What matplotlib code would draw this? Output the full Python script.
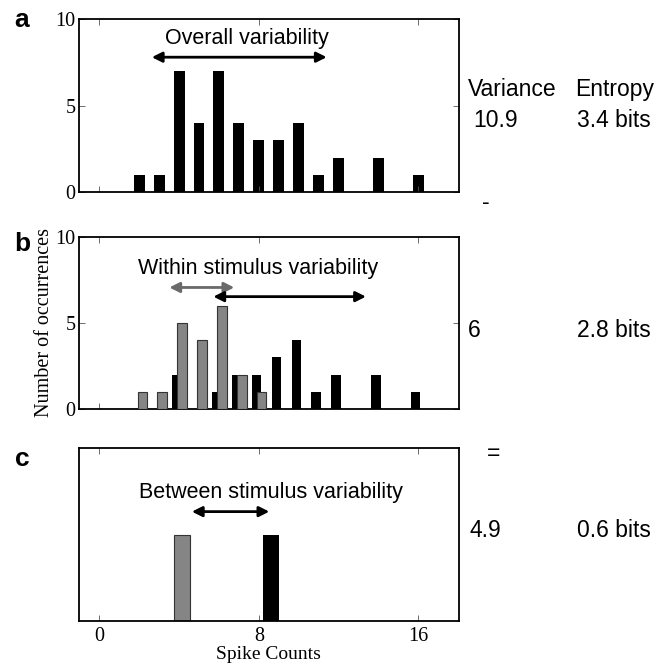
import matplotlib
matplotlib.use('Agg')
import matplotlib.pyplot as plt

# spike count histograms
overall_x = [2, 3, 4, 5, 6, 7, 8, 9, 10, 11, 12, 14, 16]
overall_n = [1, 1, 7, 4, 7, 4, 3, 3, 4, 1, 2, 2, 1]

stim_gray_x = [2, 3, 4, 5, 6, 7, 8]
stim_gray_n = [1, 1, 5, 4, 6, 2, 1]
stim_black_x = [4, 6, 7, 8, 9, 10, 11, 12, 14, 16]
stim_black_n = [2, 1, 2, 2, 3, 4, 1, 2, 2, 1]

mean_x = [4.15, 8.6]
mean_n = [5, 5]

variances = ['10.9', '6', '4.9']
entropies = ['3.4 bits', '2.8 bits', '0.6 bits']

SANS = 'Liberation Sans'
SERIF = 'Liberation Serif'
GRAY = '#858585'

fig = plt.figure(figsize=(6.71, 6.67), dpi=100)


def style_axes(ax, show_y=True, show_xlabels=False):
    ax.set_xlim(-1.05, 18.05)
    ax.set_ylim(0, 10)
    ax.set_xticks([0, 8, 16])
    for s in ax.spines.values():
        s.set_linewidth(1.3)
    ax.tick_params(direction='in', top=True, right=show_y, length=4, width=0.6,
                   color='#555555', labelsize=14.5)
    ax.tick_params(axis='y', pad=2)
    if show_y:
        ax.set_yticks([0, 5, 10])
    else:
        ax.set_yticks([])
    if not show_xlabels:
        ax.set_xticklabels([])
    for lab in ax.get_xticklabels() + ax.get_yticklabels():
        lab.set_fontfamily(SERIF)


def arrow(ax, x0, x1, y, color='black'):
    ax.annotate('', xy=(x1, y), xytext=(x0, y),
                arrowprops=dict(arrowstyle='<|-|>', color=color, lw=2,
                                mutation_scale=15, shrinkA=0, shrinkB=0))


# panel a
ax1 = fig.add_axes([0.117, 0.7117, 0.567, 0.26])
ax1.bar(overall_x, overall_n, width=0.55, color='black')
style_axes(ax1)
arrow(ax1, 2.63, 11.41, 7.79)
ax1.text(7.4, 8.53, 'Overall variability', ha='center', va='baseline',
         fontsize=15.5, family=SANS)

# panel b
ax2 = fig.add_axes([0.117, 0.3864, 0.567, 0.259])
ax2.bar([x - 0.12 for x in stim_black_x], stim_black_n, width=0.47,
        color='black', zorder=2)
ax2.bar([x + 0.15 for x in stim_gray_x], stim_gray_n, width=0.47,
        color=GRAY, edgecolor='#333333', linewidth=0.8, zorder=3)
style_axes(ax2)
arrow(ax2, 3.51, 6.77, 7.05, color='#6a6a6a')
arrow(ax2, 5.72, 13.38, 6.52)
ax2.text(7.98, 7.84, 'Within stimulus variability', ha='center', va='baseline',
         fontsize=15.5, family=SANS)
ax2.set_ylabel('Number of occurrences', family=SERIF, fontsize=14.5, labelpad=1)

# panel c
ax3 = fig.add_axes([0.117, 0.069, 0.567, 0.259])
ax3.bar(mean_x[:1], mean_n[:1], width=0.8, color=GRAY, edgecolor='#333333',
        linewidth=0.8)
ax3.bar(mean_x[1:], mean_n[1:], width=0.8, color='black')
style_axes(ax3, show_y=False, show_xlabels=True)
ax3.tick_params(axis='x', pad=4)
arrow(ax3, 4.64, 8.53, 6.33)
ax3.text(8.6, 7.1, 'Between stimulus variability', ha='center', va='baseline',
         fontsize=15.5, family=SANS)
ax3.set_xlabel('Spike Counts', family=SERIF, fontsize=14, labelpad=0)

# panel letters
for letter, y in zip(['a', 'b', 'c'], [20, 244, 459]):
    fig.text(22 / 671, 1 - y / 667, letter, ha='center', va='center',
             fontsize=19, fontweight='bold', family=SANS)

# variance / entropy column
fig.text(468 / 671, 1 - 96 / 667, 'Variance', va='baseline', fontsize=16.5, family=SANS)
fig.text(575 / 671, 1 - 96 / 667, 'Entropy', va='baseline', fontsize=16.5, family=SANS)
for v, e, y, xv in zip(variances, entropies, [127, 337, 537], [473, 468, 469]):
    fig.text(xv / 671, 1 - y / 667, v, va='baseline', fontsize=16.5, family=SANS)
    fig.text(577 / 671, 1 - y / 667, e, va='baseline', fontsize=16.5, family=SANS)
fig.text(482 / 671, 1 - 203 / 667, '-', va='center', fontsize=16.5, family=SANS)
fig.text(487 / 671, 1 - 453 / 667, '=', va='center', fontsize=16.5, family=SANS)

fig.savefig('out.png', dpi=100)
